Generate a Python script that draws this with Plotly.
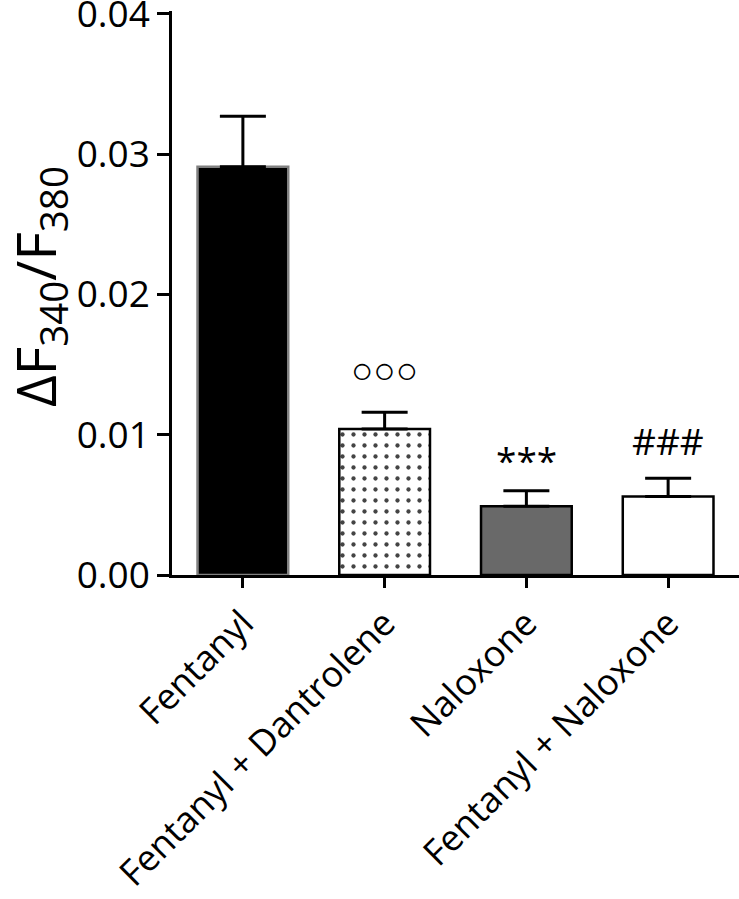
import plotly.graph_objects as go

categories = ["Fentanyl", "Fentanyl + Dantrolene", "Naloxone", "Fentanyl + Naloxone"]
means = [0.0291, 0.0104, 0.0049, 0.0056]
sem = [0.0036, 0.0012, 0.0011, 0.0013]
marks = ["", "○○○", "***", "###"]
y_ticks = [0.00, 0.01, 0.02, 0.03, 0.04]
y_ticktext = ["0.00", "0.01", "0.02", "0.03", "0.04"]
y_title = "ΔF<sub>340</sub>/F<sub>380</sub>"

fill_colors = ["#000000", "#ffffff", "#696969", "#ffffff"]
line_colors = ["#808080", "#000000", "#000000", "#000000"]
pattern_shapes = ["", ".", "", ""]
mark_shift = [0, 16, 4, 10]

FONT = "Open Sans"

fig = go.Figure()
fig.add_trace(go.Bar(
    x=categories, y=means, width=0.64,
    marker=dict(color=fill_colors,
                line=dict(color=line_colors, width=2.5),
                pattern=dict(shape=pattern_shapes, fgcolor="#000000", bgcolor="#ffffff",
                             fgopacity=1, size=11, solidity=0.12)),
    error_y=dict(type="data", array=sem, arrayminus=[0] * len(sem), symmetric=False,
                 color="#000000", thickness=3, width=23),
    showlegend=False,
))

annotations = []
for c, m, e, t, s in zip(categories, means, sem, marks, mark_shift):
    if not t:
        continue
    annotations.append(dict(x=c, y=m + e, text=t, showarrow=False, xref="x", yref="y",
                            yanchor="bottom", yshift=s,
                            font=dict(family=FONT, size=37, color="#000000")))

# y-axis title as a rotated annotation for precise placement
annotations.append(dict(x=0, y=0.5, xref="paper", yref="paper", text=y_title,
                        textangle=-90, showarrow=False, xanchor="center", yanchor="middle",
                        xshift=-134, yshift=6,
                        font=dict(family=FONT, size=55, color="#000000")))

fig.update_layout(
    width=739, height=899,
    margin=dict(l=172, r=0, t=11, b=324, autoexpand=False),
    plot_bgcolor="#ffffff", paper_bgcolor="#ffffff",
    font=dict(family=FONT, color="#000000"),
    annotations=annotations,
)
fig.update_xaxes(
    type="category", range=[-0.5, 3.5], automargin=False,
    showline=True, linecolor="#000000", linewidth=2.5,
    ticks="outside", ticklen=10, tickwidth=2.5, tickcolor="#000000",
    tickangle=-45, tickfont=dict(family=FONT, size=36, color="#000000"),
    showgrid=False, zeroline=False,
)
fig.update_yaxes(
    range=[0, 0.0402], tickmode="array", tickvals=y_ticks, ticktext=y_ticktext,
    automargin=False, ticklabeloverflow="allow",
    showline=True, linecolor="#000000", linewidth=2.5,
    ticks="outside", ticklen=12, tickwidth=2.5, tickcolor="#000000",
    tickfont=dict(family=FONT, size=37, color="#000000"),
    showgrid=False, zeroline=False,
)

fig.write_html("out.html", config={"displayModeBar": False},
               post_script="document.body.style.margin='0px';")
